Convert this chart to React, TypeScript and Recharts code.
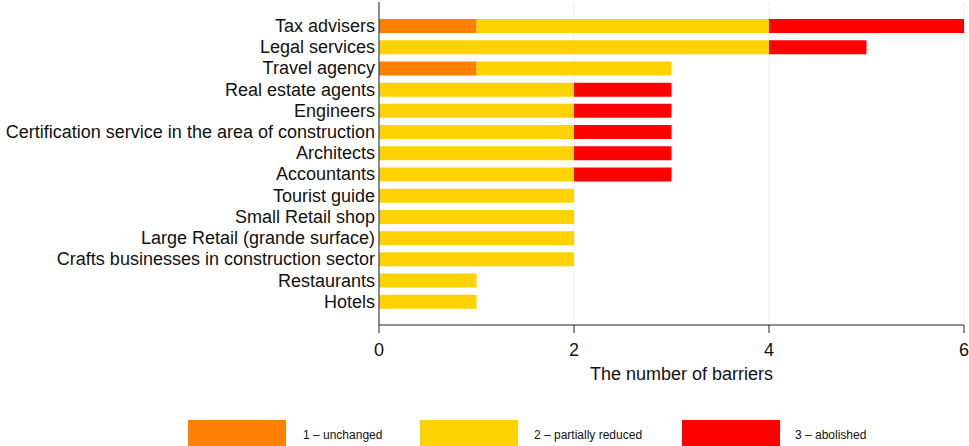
import { BarChart, Bar, XAxis, YAxis, CartesianGrid, Label } from "recharts";

const categories = [
  "Tax advisers",
  "Legal services",
  "Travel agency",
  "Real estate agents",
  "Engineers",
  "Certification service in the area of construction",
  "Architects",
  "Accountants",
  "Tourist guide",
  "Small Retail shop",
  "Large Retail (grande surface)",
  "Crafts businesses in construction sector",
  "Restaurants",
  "Hotels",
];

const unchanged = [1, 0, 1, 0, 0, 0, 0, 0, 0, 0, 0, 0, 0, 0];
const partiallyReduced = [3, 4, 2, 2, 2, 2, 2, 2, 2, 2, 2, 2, 1, 1];
const abolished = [2, 1, 0, 1, 1, 1, 1, 1, 0, 0, 0, 0, 0, 0];

const xTicks = [0, 2, 4, 6];

const seriesNames = ["1 \u2013 unchanged", "2 \u2013 partially reduced", "3 \u2013 abolished"];

const data = categories.map((name, i) => ({
  name,
  unchanged: unchanged[i],
  partial: partiallyReduced[i],
  abolished: abolished[i],
}));

const ORANGE = "#FF7F00";
const YELLOW = "#FFD200";
const RED = "#FF0000";
const FONT = "'Liberation Sans', Arial, sans-serif";

const legendItems = [
  { label: seriesNames[0], color: ORANGE, x: 188, textX: 303 },
  { label: seriesNames[1], color: YELLOW, x: 420, textX: 534 },
  { label: seriesNames[2], color: RED, x: 682, textX: 795 },
];

export default function App() {
  return (
    <div
      style={{
        position: "absolute",
        left: 0,
        top: 0,
        width: 969,
        height: 446,
        overflow: "hidden",
        background: "#fff",
        fontFamily: FONT,
      }}
    >
      <BarChart
        width={969}
        height={446}
        data={data}
        layout="vertical"
        margin={{ top: 2, right: 5, left: 0, bottom: 61 }}
        barSize={14}
      >
        <CartesianGrid horizontal={false} stroke="#e8f0f0" />
        <XAxis
          type="number"
          domain={[0, 6]}
          ticks={xTicks}
          height={60}
          axisLine={{ stroke: "#222" }}
          tickLine={{ stroke: "#222" }}
          tickSize={8}
          tickMargin={10}
          tick={{ fill: "#111", fontSize: 18, fontFamily: FONT }}
        >
          <Label
            value="The number of barriers"
            position="insideBottom"
            offset={5}
            dx={10}
            style={{ fill: "#111", fontSize: 18, fontFamily: FONT }}
          />
        </XAxis>
        <YAxis
          type="category"
          dataKey="name"
          width={379}
          padding={{ top: 13, bottom: 13 }}
          axisLine={{ stroke: "#222" }}
          tickLine={false}
          tickSize={3}
          tickMargin={1}
          interval={0}
          tick={{ fill: "#111", fontSize: 18, fontFamily: FONT }}
        />
        <Bar dataKey="unchanged" stackId="a" fill={ORANGE} isAnimationActive={false} />
        <Bar dataKey="partial" stackId="a" fill={YELLOW} isAnimationActive={false} />
        <Bar dataKey="abolished" stackId="a" fill={RED} isAnimationActive={false} />
      </BarChart>

      {legendItems.map((item) => (
        <div key={item.label}>
          <div
            style={{
              position: "absolute",
              left: item.x,
              top: 420,
              width: 98,
              height: 28,
              background: item.color,
            }}
          />
          <div
            style={{
              position: "absolute",
              left: item.textX,
              top: 427,
              fontSize: 12,
              lineHeight: "16px",
              color: "#111",
              whiteSpace: "nowrap",
            }}
          >
            {item.label}
          </div>
        </div>
      ))}
    </div>
  );
}
